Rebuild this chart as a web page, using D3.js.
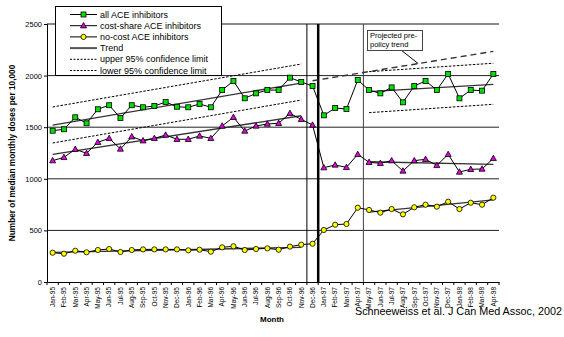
<!DOCTYPE html>
<html>
<head>
<meta charset="utf-8">
<script src="https://cdn.jsdelivr.net/npm/d3@7/dist/d3.min.js"></script>
<style>
  html, body { margin: 0; padding: 0; background: #fff; }
  svg { display: block; font-family: "Liberation Sans", Arial, sans-serif; }
</style>
</head>
<body>
<svg id="chart" width="564" height="337"></svg>
<script>
// Months Jan-95 .. Apr-98
const months = ["Jan-95","Feb-95","Mar-95","Apr-95","May-95","Jun-95","Jul-95","Aug-95","Sep-95","Oct-95","Nov-95","Dec-95",
  "Jan-96","Feb-96","Mar-96","Apr-96","May-96","Jun-96","Jul-96","Aug-96","Sep-96","Oct-96","Nov-96","Dec-96",
  "Jan-97","Feb-97","Mar-97","Apr-97","May-97","Jun-97","Jul-97","Aug-97","Sep-97","Oct-97","Nov-97","Dec-97",
  "Jan-98","Feb-98","Mar-98","Apr-98"];

const allAce = [1466,1480,1596,1538,1674,1713,1589,1713,1693,1705,1744,1698,
  1693,1725,1693,1860,1948,1780,1828,1860,1860,1980,1938,1899,
  1615,1686,1676,1957,1860,1828,1886,1741,1899,1948,1860,2016,
  1780,1860,1854,2016];

const costShare = [1176,1208,1286,1247,1354,1392,1289,1408,1369,1392,1424,1383,
  1383,1415,1392,1512,1596,1463,1512,1531,1538,1634,1576,1521,
  1108,1134,1111,1237,1160,1150,1176,1076,1176,1189,1130,1237,
  1066,1092,1095,1198];

const noCost = [284,274,303,288,310,320,291,310,316,316,316,316,
  307,313,294,336,346,310,320,326,313,343,362,371,
  504,555,562,720,698,672,707,656,724,749,730,778,
  707,768,749,817];

// Segment trend lines: [start month, end month, start value, end value]
const trendAllPre = ["Jan-95","Nov-96",1521,1928];
const trendAllPost = ["May-97","Apr-98",1845,1915];
const trendCostPre = ["Jan-95","Nov-96",1237,1611];
const trendCostPost = ["May-97","Apr-98",1165,1140];
const trendNoCostPre = ["Jan-95","Nov-96",288,336];
const trendNoCostPost = ["May-97","Apr-98",678,795];
const upperPre = ["Jan-95","Nov-96",1696,2112];
const lowerPre = ["Jan-95","Nov-96",1347,1763];
const upperPost = ["May-97","Apr-98",2038,2120];
const lowerPost = ["May-97","Apr-98",1641,1722];
const projected = ["Dec-96","Apr-98",1950,2235];

const yTicks = [0,500,1000,1500,2000,2500];
const gridValues = [500,1000,1500,2000];

const svg = d3.select("#chart");
const plotLeft = 47, plotRight = 499, plotTop = 24, plotBottom = 282;

const x = d3.scaleBand().domain(months).range([plotLeft, plotRight]).padding(0);
const y = d3.scaleLinear().domain([0, 2500]).range([plotBottom, plotTop]);
const cx = m => x(m) + x.bandwidth() / 2;

// Horizontal gridlines
svg.append("g").selectAll("line").data(gridValues).join("line")
  .attr("x1", plotLeft).attr("x2", plotRight)
  .attr("y1", d => y(d)).attr("y2", d => y(d))
  .attr("stroke", "#222").attr("stroke-width", 1);
svg.append("line")
  .attr("x1", plotLeft).attr("x2", plotRight)
  .attr("y1", y(2500)).attr("y2", y(2500))
  .attr("stroke", "#888").attr("stroke-width", 2);

// Policy period separators
const sep = [
  {m: "Dec-96", w: 1, c: "#000"},
  {m: "Jan-97", w: 2.5, c: "#000"},
  {m: "May-97", w: 1, c: "#444"}
];
svg.append("g").selectAll("line").data(sep).join("line")
  .attr("x1", d => x(d.m)).attr("x2", d => x(d.m))
  .attr("y1", y(2500)).attr("y2", plotBottom)
  .attr("stroke", d => d.c).attr("stroke-width", d => d.w);

// Y axis
const yAxis = d3.axisLeft(y).tickValues(yTicks).tickSize(3).tickFormat(d3.format("d"));
const ga = svg.append("g").attr("transform", `translate(${plotLeft},0)`).call(yAxis);
ga.select(".domain").attr("stroke", "#000");
ga.selectAll("text").attr("font-size", 7.5).attr("fill", "#000").attr("x", -5);

// X axis
const xAxis = d3.axisBottom(x).tickSize(0);
const gx = svg.append("g").attr("transform", `translate(0,${plotBottom})`).call(xAxis);
gx.select(".domain").attr("stroke", "#000");
gx.selectAll("text")
  .attr("font-size", 6.5).attr("fill", "#000")
  .attr("transform", "rotate(-90)")
  .attr("text-anchor", "end")
  .attr("x", -5).attr("y", 0).attr("dy", "0.35em");
// tick marks on band boundaries
svg.append("g").selectAll("line").data(months.concat(["end"])).join("line")
  .attr("x1", (d, i) => plotLeft + i * x.bandwidth())
  .attr("x2", (d, i) => plotLeft + i * x.bandwidth())
  .attr("y1", plotBottom).attr("y2", plotBottom + 3)
  .attr("stroke", "#000").attr("stroke-width", 1);

// Trend and limit segments
function seg(s, stroke, width, dash) {
  svg.append("line")
    .attr("x1", cx(s[0])).attr("y1", y(s[2]))
    .attr("x2", cx(s[1])).attr("y2", y(s[3]))
    .attr("stroke", stroke).attr("stroke-width", width)
    .attr("stroke-dasharray", dash || null);
}
[upperPre, lowerPre, upperPost, lowerPost].forEach(s => seg(s, "#000", 1, "2.5,1.5"));
seg(projected, "#333", 1.4, "6,4");
[trendAllPre, trendAllPost, trendCostPre, trendCostPost, trendNoCostPre, trendNoCostPost]
  .forEach(s => seg(s, "#333", 1.3));

// Series lines and markers
const line = d3.line().x((d, i) => cx(months[i])).y(d => y(d));
function drawSeries(vals, marker) {
  svg.append("path").datum(vals).attr("d", line)
    .attr("fill", "none").attr("stroke", "#000").attr("stroke-width", 1);
  const g = svg.append("g");
  vals.forEach((v, i) => marker(g, cx(months[i]), y(v)));
}
const square = (g, px, py) => g.append("rect")
  .attr("x", px - 2.5).attr("y", py - 2.5).attr("width", 5).attr("height", 5)
  .attr("fill", "#00e000").attr("stroke", "#000").attr("stroke-width", 0.8);
const triangle = (g, px, py) => g.append("path")
  .attr("d", `M${px},${py - 3.2}L${px + 3},${py + 2.2}L${px - 3},${py + 2.2}Z`)
  .attr("fill", "#e000e0").attr("stroke", "#000").attr("stroke-width", 0.8);
const circle = (g, px, py) => g.append("circle")
  .attr("cx", px).attr("cy", py).attr("r", 2.6)
  .attr("fill", "#ffff00").attr("stroke", "#000").attr("stroke-width", 0.8);

drawSeries(allAce, square);
drawSeries(costShare, triangle);
drawSeries(noCost, circle);

// Legend
const lg = svg.append("g");
lg.append("rect").attr("x", 55.5).attr("y", 6.5).attr("width", 166).attr("height", 69)
  .attr("fill", "#fff").attr("stroke", "#000").attr("stroke-width", 1);
const legendItems = [
  {label: "all ACE inhibitors", marker: square, stroke: "#000", w: 1},
  {label: "cost-share ACE inhibitors", marker: triangle, stroke: "#000", w: 1},
  {label: "no-cost ACE inhibitors", marker: circle, stroke: "#000", w: 1},
  {label: "Trend", marker: null, stroke: "#555", w: 2},
  {label: "upper 95% confidence limit", marker: null, stroke: "#000", w: 1, dash: "2,1.5"},
  {label: "lower 95% confidence limit", marker: null, stroke: "#000", w: 1, dash: "2,1.5"}
];
legendItems.forEach((d, i) => {
  const ly = 14.5 + i * 11.2;
  lg.append("line").attr("x1", 70).attr("x2", 97).attr("y1", ly).attr("y2", ly)
    .attr("stroke", d.stroke).attr("stroke-width", d.w)
    .attr("stroke-dasharray", d.dash || null);
  if (d.marker) d.marker(lg, 83.5, ly);
  lg.append("text").attr("x", 100).attr("y", ly).attr("dy", "0.35em")
    .attr("font-size", 9).attr("fill", "#000").text(d.label);
});

// Callout for the projected trend
const callout = svg.append("g");
const iA = months.indexOf(projected[0]), iB = months.indexOf(projected[1]);
const tipIdx = months.indexOf("Sep-97") + 0.35;
const tipX = x("Sep-97") + x.bandwidth() * 0.85;
const tipY = y(projected[2] + (projected[3] - projected[2]) * (tipIdx - iA) / (iB - iA));
callout.append("line").attr("x1", 401).attr("y1", 50).attr("x2", tipX).attr("y2", tipY)
  .attr("stroke", "#000").attr("stroke-width", 1);
callout.append("rect").attr("x", 367.5).attr("y", 30.5).attr("width", 55).attr("height", 20)
  .attr("fill", "#fff").attr("stroke", "#444").attr("stroke-width", 1);
callout.append("text").attr("x", 370).attr("y", 38).attr("font-size", 7.5).attr("fill", "#000").text("Projected pre-");
callout.append("text").attr("x", 370).attr("y", 47).attr("font-size", 7.5).attr("fill", "#000").text("policy trend");

// Axis titles and source
svg.append("text")
  .attr("transform", `translate(15,${(plotTop + plotBottom) / 2}) rotate(-90)`)
  .attr("text-anchor", "middle").attr("font-size", 8.3).attr("font-weight", "bold")
  .text("Number of median monthly doses per 10,000");
svg.append("text").attr("x", 272).attr("y", 322).attr("text-anchor", "middle")
  .attr("font-size", 8).attr("font-weight", "bold").text("Month");
svg.append("text").attr("x", 562).attr("y", 315).attr("text-anchor", "end")
  .attr("font-size", 10.8).attr("fill", "#000")
  .text("Schneeweiss et al. J Can Med Assoc, 2002");
</script>
</body>
</html>
